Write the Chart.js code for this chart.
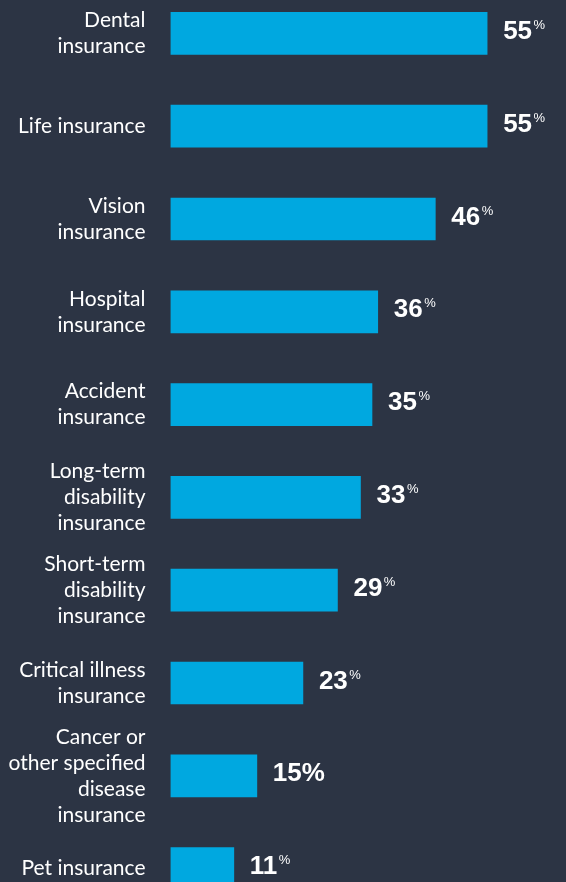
<!DOCTYPE html>
<html>
<head>
<meta charset="utf-8">
<script src="https://cdn.jsdelivr.net/npm/chart.js@4/dist/chart.umd.min.js"></script>
<style>
    html, body { margin: 0; padding: 0; background: #2c3444; overflow: hidden; }
    body { width: 566px; height: 882px; position: relative; }
    #benefitsChart { position: absolute; left: 0; top: -13.4px; }
</style>
</head>
<body>
<canvas id="benefitsChart" width="566" height="928"></canvas>
<script>
// categories (multi-line labels as arrays)
const categories = [
    ["Dental", "insurance"],
    ["Life insurance"],
    ["Vision", "insurance"],
    ["Hospital", "insurance"],
    ["Accident", "insurance"],
    ["Long-term", "disability", "insurance"],
    ["Short-term", "disability", "insurance"],
    ["Critical illness", "insurance"],
    ["Cancer or", "other specified", "disease", "insurance"],
    ["Pet insurance"]
];
const percents = [55, 55, 46, 36, 35, 33, 29, 23, 15, 11];
// this one prints its % sign at full size
const fullSizePct = [8];

const labelFont = "Lato, 'Noto Sans', sans-serif";
const valueFont = "'Liberation Sans', Arial, sans-serif";

// writes "55%" next to each bar, with a small raised % sign
const valueLabels = {
    id: "valueLabels",
    afterDatasetsDraw(chart) {
        const ctx = chart.ctx;
        const meta = chart.getDatasetMeta(0);
        ctx.save();
        ctx.fillStyle = "#ffffff";
        ctx.textAlign = "left";
        ctx.textBaseline = "alphabetic";
        meta.data.forEach((bar, i) => {
            const x = bar.x + 16;
            const y = bar.y + 5.5;
            const num = String(percents[i]);
            ctx.font = "bold 26px " + valueFont;
            if (fullSizePct.includes(i)) {
                ctx.fillText(num + "%", x, y);
                return;
            }
            ctx.fillText(num, x, y);
            const w = ctx.measureText(num).width;
            ctx.font = "13px " + valueFont;
            ctx.fillText("%", x + w + 1.5, y - 10);
        });
        ctx.restore();
    }
};

const canvas = document.getElementById("benefitsChart");
const ctx = canvas.getContext("2d");

const chart = new Chart(ctx, {
    type: "bar",
    data: {
        labels: categories,
        datasets: [{
            data: percents,
            backgroundColor: "#00a8e0",
            borderWidth: 0,
            barThickness: 42
        }]
    },
    options: {
        indexAxis: "y",
        responsive: false,
        animation: false,
        layout: { padding: 0 },
        plugins: {
            legend: { display: false },
            tooltip: { enabled: false }
        },
        scales: {
            x: {
                display: false,
                min: 0,
                max: 68.7
            },
            y: {
                afterFit: (scale) => {
                    scale.width = 170.5;
                    // no extra room for the tall first/last labels
                    scale.paddingTop = 0;
                    scale.paddingBottom = 0;
                },
                border: { display: false },
                grid: { display: false, drawTicks: false },
                ticks: {
                    autoSkip: false,
                    color: "#ffffff",
                    padding: 25,
                    font: { family: labelFont, size: 21, lineHeight: "26px" }
                }
            }
        }
    },
    plugins: [valueLabels]
});
</script>
</body>
</html>
